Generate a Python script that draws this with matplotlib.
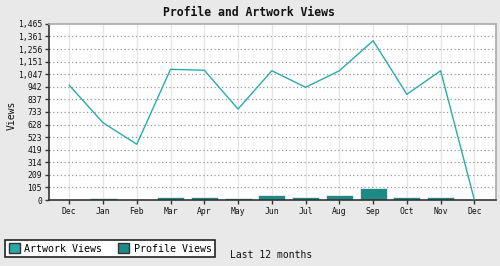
import matplotlib
matplotlib.use("Agg")
import matplotlib.pyplot as plt
from matplotlib.patches import Patch
import numpy as np

months = ["Dec", "Jan", "Feb", "Mar", "Apr", "May", "Jun", "Jul", "Aug", "Sep", "Oct", "Nov", "Dec"]
artwork_views = [955, 643, 464, 1088, 1080, 757, 1076, 938, 1076, 1326, 880, 1076, 0]
profile_views = [0, 14, 0, 24, 24, 14, 38, 29, 38, 96, 29, 29, 0]
yticks = [0, 105, 209, 314, 419, 523, 628, 733, 837, 942, 1047, 1151, 1256, 1361, 1465]

line_color = "#2aabaa"
bar_color = "#1d8a88"
font = "DejaVu Sans Mono"

fig = plt.figure(figsize=(5.0, 2.66), dpi=100, facecolor="#e9e9e9")
ax = fig.add_axes([49/500, 66/266, 447/500, 176/266])
ax.set_facecolor("white")

x = np.arange(len(months))
ax.bar(x, profile_views, width=0.8, color=bar_color, edgecolor="#f0f0f0", linewidth=0.6, zorder=2)
ax.plot(x, artwork_views, color=line_color, lw=1.0, zorder=3)

ax.set_xlim(-0.6, 12.64)
ax.set_ylim(0, 1465)
ax.set_yticks(yticks)
ax.set_yticklabels([f"{v:,}" for v in yticks], fontfamily=font, fontsize=5.8)
ax.set_xticks(x)
ax.set_xticklabels(months, fontfamily=font, fontsize=5.8)

for v in yticks[1:-1]:
    ax.axhline(v, color="#999999", lw=0.9, linestyle=(0, (1, 2)), zorder=1)
for xi in x:
    ax.axvline(xi, color="#e6e6e6", lw=1.0, zorder=0)

ax.tick_params(axis="both", length=3, width=1, color="#333333", pad=2, labelcolor="#111111")
for s in ["left", "bottom"]:
    ax.spines[s].set_color("#333333")
    ax.spines[s].set_linewidth(1.2)
for s in ["top", "right"]:
    ax.spines[s].set_color("#aaaaaa")
    ax.spines[s].set_linewidth(1.2)

fig.text(249/500, 1 - 12/266, "Profile and Artwork Views", ha="center", va="center",
         fontfamily=font, fontsize=8.3, fontweight="bold", color="#111111")
fig.text(12/500, 1 - 115/266, "Views", ha="center", va="center", rotation=90,
         fontfamily=font, fontsize=7, color="#111111")
fig.text(271/500, 11/266, "Last 12 months", ha="center", va="center",
         fontfamily=font, fontsize=7, color="#111111")

handles = [Patch(facecolor=line_color, edgecolor="#333333", linewidth=1, label="Artwork Views"),
           Patch(facecolor=bar_color, edgecolor="#333333", linewidth=1, label="Profile Views")]
leg = fig.legend(handles=handles, loc="lower left", bbox_to_anchor=(5/500, 9/266), ncol=2,
                 prop={"family": font, "size": 7.2}, frameon=True, fancybox=False,
                 edgecolor="#222222", facecolor="white", framealpha=1,
                 handlelength=1.1, handleheight=1.1, handletextpad=0.5, columnspacing=1.5,
                 borderpad=0.35, borderaxespad=0)
leg.get_frame().set_linewidth(1.2)

fig.savefig("out.png", dpi=100, facecolor=fig.get_facecolor())
